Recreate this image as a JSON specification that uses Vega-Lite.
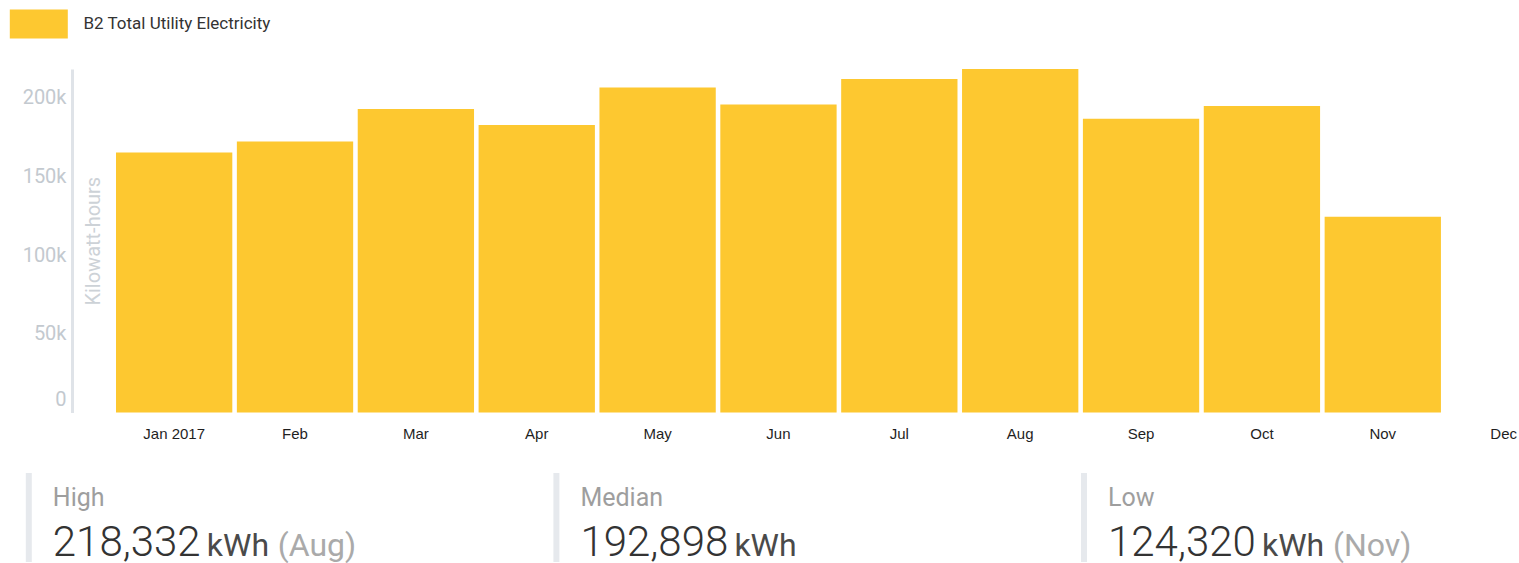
{
  "$schema": "https://vega.github.io/schema/vega-lite/v6.json",
  "background": "white",
  "padding": {"left": 9, "top": 9, "right": 0, "bottom": 0},
  "config": {"view": {"stroke": null}, "font": "Roboto"},
  "bounds": "flush",
  "spacing": 60,
  "vconcat": [
    {
      "width": 1402,
      "height": 343.4,
      "data": {"values": [
        {"month": "Jan 2017", "kwh": 165300, "series": "B2 Total Utility Electricity"},
        {"month": "Feb", "kwh": 172300, "series": "B2 Total Utility Electricity"},
        {"month": "Mar", "kwh": 192898, "series": "B2 Total Utility Electricity"},
        {"month": "Apr", "kwh": 182700, "series": "B2 Total Utility Electricity"},
        {"month": "May", "kwh": 206600, "series": "B2 Total Utility Electricity"},
        {"month": "Jun", "kwh": 195800, "series": "B2 Total Utility Electricity"},
        {"month": "Jul", "kwh": 212000, "series": "B2 Total Utility Electricity"},
        {"month": "Aug", "kwh": 218332, "series": "B2 Total Utility Electricity"},
        {"month": "Sep", "kwh": 186700, "series": "B2 Total Utility Electricity"},
        {"month": "Oct", "kwh": 194800, "series": "B2 Total Utility Electricity"},
        {"month": "Nov", "kwh": 124320, "series": "B2 Total Utility Electricity"}
      ]},
      "mark": {"type": "bar"},
      "encoding": {
        "x": {
          "field": "month", "type": "ordinal", "sort": null,
          "scale": {
            "domain": ["Jan 2017", "Feb", "Mar", "Apr", "May", "Jun", "Jul", "Aug", "Sep", "Oct", "Nov", "Dec"],
            "range": [0, 1445.8], "paddingInner": 0.0377, "paddingOuter": 0
          },
          "axis": {
            "title": null, "domain": false, "ticks": false, "labelAngle": 0,
            "labelFont": "Liberation Sans", "labelFontSize": 15, "labelColor": "#1f1f1f",
            "labelPadding": 14
          }
        },
        "y": {
          "field": "kwh", "type": "quantitative",
          "scale": {"nice": false},
          "axis": {
            "title": "Kilowatt-hours", "offset": 44, "ticks": false, "grid": false,
            "tickCount": 5,
            "labelExpr": "datum.value === 0 ? '0' : format(datum.value / 1000, 'd') + 'k'",
            "labelFont": "Roboto", "labelFontSize": 20, "labelColor": "#c3c9cf",
            "labelPadding": 6, "labelFlush": true, "labelFlushOffset": -3,
            "domainColor": "#dfe3e8", "domainWidth": 3,
            "titleFont": "Roboto", "titleFontSize": 20, "titleFontWeight": "normal",
            "titleColor": "#cdd2d7", "titleX": 21, "titleY": 171.7, "titleAngle": -90,
            "titleBaseline": "middle", "titleAlign": "center"
          }
        },
        "color": {
          "field": "series", "type": "nominal",
          "scale": {"range": ["#fdc830"]},
          "legend": {
            "orient": "none", "legendX": -106.2, "legendY": -59.6, "title": null,
            "symbolType": "M-1,-1H3V1H-1Z", "symbolSize": 841, "symbolStrokeWidth": 0,
            "symbolOpacity": 1,
            "labelFont": "Roboto", "labelFontSize": 17, "labelColor": "#333333",
            "labelOffset": 44.7, "labelLimit": 500, "padding": 0
          }
        }
      }
    },
    {
      "width": 1402,
      "height": 89,
      "data": {"values": [
        {"stat": "High", "amount": "218,332", "unit": "kWh", "note": "(Aug)"},
        {"stat": "Median", "amount": "192,898", "unit": "kWh", "note": ""},
        {"stat": "Low", "amount": "124,320", "unit": "kWh", "note": "(Nov)"}
      ]},
      "encoding": {
        "x": {
          "field": "stat", "type": "ordinal", "sort": null,
          "scale": {"type": "point", "padding": 0, "range": [-87.2, 968]},
          "axis": null
        }
      },
      "layer": [
        {"mark": {"type": "rule", "color": "#e6e9ed", "strokeWidth": 6}, "encoding": {}},
        {"mark": {"type": "text", "align": "left", "baseline": "alphabetic", "dx": 24, "dy": -11.5, "font": "Roboto", "fontSize": 25, "color": "#9e9e9e"},
         "encoding": {"text": {"field": "stat"}}},
        {"mark": {"type": "text", "align": "left", "baseline": "alphabetic", "dx": 24, "dy": 38.5, "font": "Roboto", "fontSize": 42, "fontWeight": 300, "color": "#333333"},
         "encoding": {"text": {"field": "amount"}}},
        {"mark": {"type": "text", "align": "left", "baseline": "alphabetic", "dx": 178, "dy": 38.5, "font": "Roboto", "fontSize": 32, "color": "#4a4a4a"},
         "encoding": {"text": {"field": "unit"}}},
        {"mark": {"type": "text", "align": "left", "baseline": "alphabetic", "dx": 249, "dy": 38.5, "font": "Roboto", "fontSize": 32, "color": "#aaaaaa"},
         "encoding": {"text": {"field": "note"}}}
      ]
    }
  ]
}
